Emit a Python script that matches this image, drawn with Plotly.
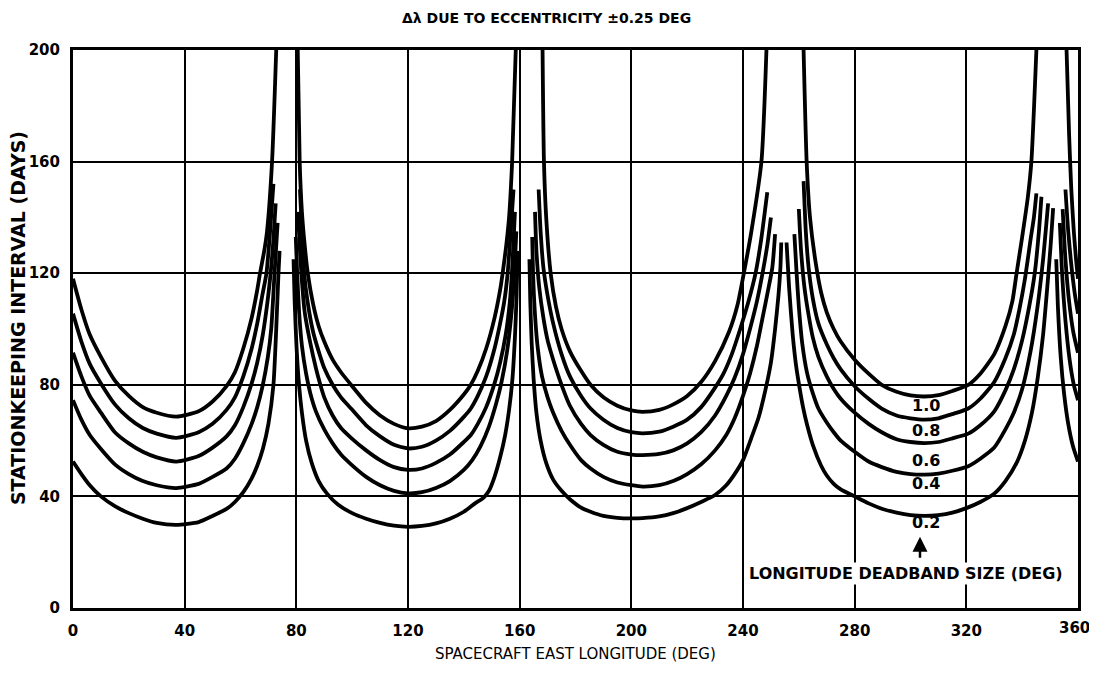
import plotly.graph_objects as go

# ---------------- data ----------------
X_TICKS = [0, 40, 80, 120, 160, 200, 240, 280, 320, 360]
Y_TICKS = [0, 40, 80, 120, 160, 200]
DEADBANDS = ["1.0", "0.8", "0.6", "0.4", "0.2"]

# deadband 1.0 deg (segments separated by None)
D10_LON = [0, 3, 6, 10, 15, 20, 25, 30, 37, 45, 50, 55, 58, 61, 64, 66, 67, 68.5, 69.5, 71.3, 72.8, None,
           80.5, 81.2, 82, 83, 84.1, 86, 88, 90, 93, 96, 99.6, 105, 110, 115, 120, 125, 130, 135, 140, 142.5, 145, 148, 151, 153, 153.9, 155.2, 156.2, 157.3, 158.6, None,
           168.2, 168.7, 169.5, 171.1, 173, 175, 178, 182, 185.4, 190, 195, 200, 204, 210, 215, 220, 225, 230, 235, 238, 240.3, 243, 246.6, 248.4, None,
           261.7, 262.8, 264, 266, 268, 270, 272.5, 275, 280, 285, 289.7, 295, 300, 305, 310, 315, 320.7, 325, 330, 334, 336.5, 338, 340, 342, 343.3, 345.1, None,
           355.9, 356.8, 357.6, 358.5, 359.3, 360]
D10_VAL = [118, 107, 98, 90, 81.5, 76, 72, 70, 68.6, 70.5, 74, 79.5, 84.5, 93, 104, 114, 120, 128, 135, 160, 200, None,
           200, 160, 142, 130, 120, 109, 101, 95.5, 89, 84.5, 80, 73.5, 69, 66, 64.4, 65, 67, 71, 76.5, 80, 85, 93, 104, 114, 120, 130, 140, 160, 200, None,
           200, 160, 140, 120, 108, 100, 92, 85, 80, 75.5, 72.5, 70.8, 70.3, 71, 73, 76, 81, 88.5, 99, 108.5, 120, 135, 160, 200, None,
           200, 160, 140, 124, 113, 106, 100, 95.5, 89, 84, 80, 77.5, 76.2, 75.8, 76.3, 77.8, 80, 84, 91, 101, 110, 120, 133, 147, 160, 200, None,
           200, 170, 150, 135, 125, 118]

# deadband 0.8 deg
D08_LON = [0, 3, 6, 10, 15, 20, 25, 30, 37, 45, 50, 55, 58, 61, 64, 66, 67.8, 69.3, 70.6, 71.8, None,
           81.3, 82, 82.8, 84, 86, 88, 90, 93, 96, 99.6, 105, 110, 115, 120, 125, 130, 135, 140, 142.5, 145, 148, 151, 153, 154.5, 155.7, 156.8, 157.8, None,
           166.8, 167.5, 168.5, 170, 172, 175, 178, 182, 185.4, 190, 195, 200, 204, 210, 215, 220, 225, 230, 233, 236, 239, 242, 244.5, 246.5, 248.7, None,
           261.7, 262.5, 263.5, 265, 267, 270, 272.5, 275, 280, 285, 289.7, 295, 300, 305, 310, 315, 320.7, 325, 330, 334, 337, 339, 341, 343, 344.2, 345.1, None,
           355.5, 356.5, 357.5, 358.8, 360]
D08_VAL = [105.5, 95.5, 87.5, 80.5, 73, 68, 64.5, 62.5, 61, 63, 66, 71, 75.5, 83, 93, 102, 112, 120, 135, 152, None,
           150, 135, 120, 110, 99, 92, 86, 80, 75.5, 71.5, 65.5, 61.5, 58.5, 57.2, 57.8, 60, 63.5, 68.5, 71.5, 76, 83, 93, 102, 110, 120, 135, 150, None,
           150, 135, 122, 112, 102, 91, 83, 76, 71.5, 67.5, 64.5, 63, 62.6, 63.2, 65, 67.5, 72, 79, 84, 91, 100, 110, 120, 132, 149, None,
           153, 135, 122, 111, 102, 94.5, 89.5, 85.5, 79.5, 75, 71.5, 69, 68, 67.5, 68, 69.5, 71.5, 75, 81, 89.5, 98, 107, 118, 132, 140, 148.6, None,
           150, 135, 124, 113, 105.5]

# deadband 0.6 deg
D06_LON = [0, 3, 6, 10, 15, 20, 25, 30, 37, 45, 50, 55, 58, 61, 64, 66, 68, 69.7, 70.8, 71.8, 72.6, None,
           80.6, 81.2, 81.8, 83, 85, 87, 88.6, 90, 93, 96, 99.6, 105, 110, 115, 120, 125, 130, 135, 140, 142.5, 145, 148, 151, 153, 155, 156.5, 157.5, 158.3, None,
           165.5, 166, 167, 168.5, 170, 172, 175, 178, 182, 185.4, 190, 195, 200, 204, 210, 215, 220, 225, 230, 234, 237, 240, 242.5, 245, 247, 248.7, 250, None,
           260, 260.8, 262, 263.5, 265, 267, 270, 272.5, 275, 280, 285, 289.7, 295, 300, 305, 310, 315, 320.7, 325, 330, 334, 337, 340, 342.5, 344.5, 346, 346.9, None,
           354.5, 355.5, 356.8, 358.3, 360]
D06_VAL = [91.5, 83, 76, 70, 63, 59, 56, 54, 52.5, 54.5, 57.5, 61.5, 65.5, 72, 80.5, 88, 98, 110, 120, 132, 145, None,
           142, 130, 120, 106, 95, 86, 80, 75.5, 69, 64.5, 61, 56.5, 53, 50.5, 49.5, 50, 52, 55, 59.5, 62, 66, 72, 80.5, 88, 98, 110, 125, 142, None,
           142, 128, 115, 104, 96, 89, 80, 72.5, 66, 62, 58.5, 56, 55, 54.8, 55.2, 56.5, 59, 63, 69, 76, 82.5, 91, 100, 110, 120, 130, 140, None,
           143, 128, 115, 105, 97, 90, 83, 78.5, 75, 70, 66, 63, 60.5, 59.5, 59.1, 59.5, 60.8, 62.5, 65.5, 70.5, 78, 85.5, 96, 108, 120, 135, 147.4, None,
           143, 125, 110, 99, 91.5]

# deadband 0.4 deg
D04_LON = [0, 3, 6, 10, 15, 20, 25, 30, 37, 45, 50, 55, 58, 61, 64, 66, 68, 69.8, 71, 72.2, 73.3, None,
           79.8, 80.3, 81, 82, 83.5, 85, 87, 90, 93, 96, 99.6, 105, 110, 115, 120, 125, 130, 135, 140, 143, 146, 149, 151.5, 153.5, 155.5, 157, 158, 158.8, None,
           164.5, 164.8, 165.5, 166.5, 168, 170, 172, 175, 178, 182, 185.4, 190, 195, 200, 204, 210, 215, 220, 225, 230, 234, 237, 240, 242.5, 245, 247, 249, 250.5, 251.5, None,
           258.4, 259.2, 260, 261.2, 263, 265, 267, 270, 272.5, 275, 280, 285, 289.7, 295, 300, 305, 310, 315, 320.7, 325, 330, 334, 337, 340, 343, 345.5, 347.5, 349.3, None,
           353.5, 354.3, 355.5, 357, 358.5, 360]
D04_VAL = [74.5, 67.5, 62, 57, 51.5, 48, 45.5, 44, 43, 44.5, 47, 50, 53.5, 59, 66, 72, 80, 90, 100, 120, 138, None,
           133, 120, 106, 94, 84, 77, 70.5, 64, 59, 55, 51.5, 47, 44, 42, 41.1, 41.5, 43, 45.5, 49.5, 53, 58, 65, 73, 81, 92, 105, 118, 135, None,
           133, 120, 105, 93, 83, 75.5, 70, 63.5, 58.5, 53, 50, 47, 45, 44, 43.5, 44, 45.5, 48, 51.5, 56.5, 62, 68, 76, 84, 94, 104, 114, 122, 134, None,
           134, 120, 108, 95, 84, 77, 71.5, 66.5, 63, 60, 56, 52.5, 50.5, 48.8, 48, 47.8, 48.2, 49.2, 50.8, 53.5, 57.5, 64, 70, 78.5, 92, 108, 125, 145, None,
           138, 120, 103, 89, 80, 74.5]

# deadband 0.2 deg
D02_LON = [0, 3, 6, 10, 15, 20, 25, 30, 37, 45, 50, 55, 58, 61, 64, 66, 68, 70, 71.8, 72.8, 73.6, 74, None,
           79, 79.4, 80, 80.8, 82, 83.5, 85.5, 88, 91, 95, 100, 105, 110, 115, 120, 125, 130, 135, 140, 144, 147, 149, 151, 153, 154.8, 156.2, 157.4, 158.3, 158.9, 159.3, None,
           163.5, 163.8, 164.3, 165, 166, 167.5, 169.5, 172, 175, 178, 182, 185.4, 190, 195, 200, 204, 210, 215, 220, 225, 230, 234, 237, 240, 243, 245.5, 248, 250, 251.5, 252.7, 253.4, 253.7, None,
           255.6, 256.5, 257.8, 259, 260, 261.5, 263, 265, 268, 270, 272.5, 275, 280, 285, 290, 295, 300, 305, 310, 315, 320, 325, 330, 334, 338, 341, 343.5, 345.5, 347.5, 349, 350.2, 351.1, None,
           352.2, 352.8, 353.8, 355, 356.5, 358.2, 360]
D02_VAL = [52.5, 48, 44, 40, 36.5, 34, 32, 30.5, 29.8, 30.8, 33, 35.5, 38, 41.5, 46.5, 51, 57, 66, 80, 100, 120, 128, None,
           125, 110, 95, 82, 70, 60, 52, 45.5, 41, 37, 34, 32, 30.5, 29.5, 29.1, 29.4, 30.3, 32, 34.5, 37.5, 39.5, 42, 47, 54, 62, 71, 82, 97, 112, 128, None,
           125, 110, 95, 82, 70, 60, 52, 46, 42, 39, 36, 34.5, 33, 32.3, 32.1, 32.2, 32.8, 34, 35.8, 38, 40.5, 44, 48, 53, 61, 68, 78, 88, 100, 112, 122, 131, None,
           131, 115, 98, 87, 80.5, 72, 65.5, 58.5, 51, 47.5, 44.5, 42.5, 40, 37.5, 35.5, 34.2, 33.3, 33, 33.3, 34.2, 35.8, 38, 41, 45.5, 52, 60, 70, 82, 98, 115, 130, 143.3, None,
           125, 108, 90, 77, 66, 58, 52.5]

CURVES_LON = [D10_LON, D08_LON, D06_LON, D04_LON, D02_LON]
CURVES_VAL = [D10_VAL, D08_VAL, D06_VAL, D04_VAL, D02_VAL]

# label anchor readings (longitude, value) for the curve labels
LABEL_LON = 305.5
LABEL_VAL = [72.5, 63.5, 53, 44.8, 30.5]

TITLE = "Δλ DUE TO ECCENTRICITY ±0.25 DEG"
X_TITLE = "SPACECRAFT EAST LONGITUDE (DEG)"
Y_TITLE = "STATIONKEEPING INTERVAL (DAYS)"
NOTE = "LONGITUDE DEADBAND SIZE (DEG)"

# ---------------- figure ----------------
FONT = "DejaVu Sans, Liberation Sans, sans-serif"

fig = go.Figure()
for name, lon, val in zip(DEADBANDS, CURVES_LON, CURVES_VAL):
    fig.add_trace(go.Scatter(
        x=lon, y=val, mode="lines", name=name, connectgaps=False,
        line=dict(color="black", width=3.8, shape="spline", smoothing=0.6),
        hoverinfo="skip", cliponaxis=True,
    ))

axis_common = dict(
    showgrid=True, gridcolor="black", gridwidth=2,
    showline=True, linecolor="black", linewidth=3, mirror=True,
    zeroline=False, ticks="outside", ticklen=7, tickcolor="rgba(0,0,0,0)",
    tickfont=dict(family=FONT, size=15, color="black", weight="bold"),
)
x_text = [str(v) if v != 360 else "" for v in X_TICKS]
fig.update_xaxes(range=[0, 360], tickvals=X_TICKS, ticktext=x_text, **axis_common)
fig.update_yaxes(range=[0, 200], tickvals=Y_TICKS, ticktext=[str(v) for v in Y_TICKS], **axis_common)

annotations = []
for name, v in zip(DEADBANDS, LABEL_VAL):
    annotations.append(dict(x=LABEL_LON, y=v, xref="x", yref="y", text="<b>%s</b>" % name,
                            showarrow=False, font=dict(family=FONT, size=16, color="black"),
                            xanchor="center", yanchor="middle"))
annotations.append(dict(x=303.4, y=25.5, ax=303.4, ay=17.5, xref="x", yref="y", axref="x", ayref="y",
                        text="", showarrow=True, arrowhead=2, arrowsize=1.2, arrowwidth=2.5, arrowcolor="black"))
annotations.append(dict(x=298.5, y=12.5, xref="x", yref="y", text="<b>%s</b>" % NOTE, showarrow=False,
                        font=dict(family=FONT, size=16, color="black"), bgcolor="white",
                        xanchor="center", yanchor="middle"))
# last x tick label (kept inside the page)
annotations.append(dict(x=360, y=-0.036, xref="x", yref="paper", text="<b>360</b>", showarrow=False,
                        xshift=-4, font=dict(family=FONT, size=15, color="black"),
                        xanchor="center", yanchor="middle"))
annotations.append(dict(x=0.471, y=1.058, xref="paper", yref="paper", text="<b>%s</b>" % TITLE,
                        showarrow=False, font=dict(family=FONT, size=14, color="black"),
                        xanchor="center", yanchor="middle"))
annotations.append(dict(x=0.5, y=-0.082, xref="paper", yref="paper", text=X_TITLE,
                        showarrow=False, font=dict(family=FONT, size=15, color="black"),
                        xanchor="center", yanchor="middle"))
annotations.append(dict(x=-0.0545, y=0.52, xref="paper", yref="paper", text="<b>%s</b>" % Y_TITLE,
                        textangle=-90, showarrow=False, font=dict(family=FONT, size=19, color="black"),
                        xanchor="center", yanchor="middle"))

# page body has an 8 px margin; size the figure so the plot frame lands where the reference has it
fig.update_layout(
    width=1085, height=657,
    margin=dict(l=65, r=13, t=42, b=57),
    plot_bgcolor="white", paper_bgcolor="white",
    showlegend=False,
    annotations=annotations,
)

fig.write_html("out.html")
